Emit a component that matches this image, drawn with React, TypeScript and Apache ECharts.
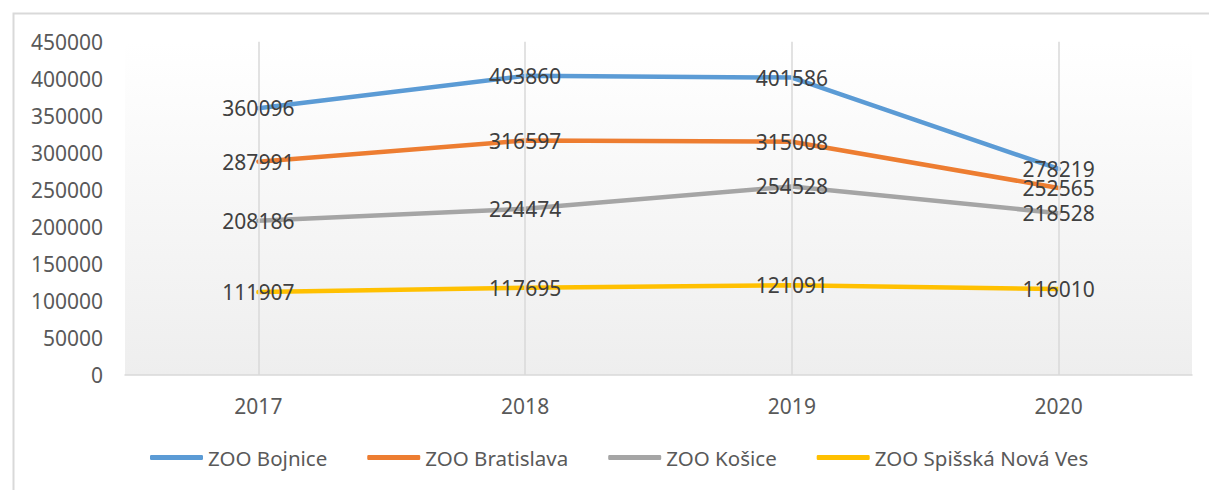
import React, { useEffect, useRef } from "react";
import * as echarts from "echarts";

const years = ["2017", "2018", "2019", "2020"];
const seriesNames = ["ZOO Bojnice", "ZOO Bratislava", "ZOO Košice", "ZOO Spišská Nová Ves"];
const bojnice = [360096, 403860, 401586, 278219];
const bratislava = [287991, 316597, 315008, 252565];
const kosice = [208186, 224474, 254528, 218528];
const spisska = [111907, 117695, 121091, 116010];
const colors = ["#5B9BD5", "#ED7D31", "#A5A5A5", "#FFC000"];
const yMax = 450000;
const yStep = 50000;

const FONT = "'Noto Sans', 'Open Sans', sans-serif";

export default function App() {
  const ref = useRef<HTMLDivElement>(null);
  useEffect(() => {
    if (!ref.current) return;
    const chart = echarts.init(ref.current, null, { renderer: "svg" });
    const values = [bojnice, bratislava, kosice, spisska];
    const lineSeries = values.map((d, i) => ({
      name: seriesNames[i],
      type: "line",
      data: d,
      showSymbol: true,
      symbol: "circle",
      symbolSize: 0,
      z: 3,
      lineStyle: { color: colors[i], width: 4.5, cap: "round", join: "round" },
      itemStyle: { color: colors[i] },
      label: {
        show: true,
        position: "inside",
        color: "#404040",
        fontSize: 21,
        fontFamily: FONT,
      },
    }));
    chart.setOption({
      animation: false,
      backgroundColor: "#ffffff",
      textStyle: { fontFamily: FONT },
      graphic: [
        {
          type: "rect",
          left: 11,
          top: 11,
          shape: { x: 0, y: 0, width: 1400, height: 700 },
          style: { fill: "none", stroke: "#d9d9d9", lineWidth: 2 },
          silent: true,
          z: 100,
        },
      ],
      grid: {
        left: 125,
        right: 17,
        top: 41.7,
        bottom: 115,
        show: true,
        borderWidth: 0,
        backgroundColor: new echarts.graphic.LinearGradient(0, 0, 0, 1, [
          { offset: 0, color: "#ffffff" },
          { offset: 1, color: "#eeeeee" },
        ]),
      },
      legend: {
        data: seriesNames,
        left: 150,
        top: 447,
        padding: 0,
        itemWidth: 53,
        itemHeight: 5,
        itemGap: 40,
        icon: "roundRect",
        textStyle: { color: "#595959", fontSize: 20.5, fontFamily: FONT },
      },
      xAxis: {
        type: "category",
        data: years,
        boundaryGap: true,
        axisLine: { show: true, lineStyle: { color: "#d9d9d9", width: 1.5 } },
        axisTick: { show: false },
        splitLine: { show: false },
        axisLabel: { color: "#595959", fontSize: 21, margin: 20, fontFamily: FONT },
      },
      yAxis: {
        type: "value",
        min: 0,
        max: yMax,
        interval: yStep,
        axisLine: { show: false },
        axisTick: { show: false },
        splitLine: { show: false },
        axisLabel: {
          color: "#595959",
          fontSize: 21,
          margin: 22,
          fontFamily: FONT,
          formatter: (v: number) => String(v),
        },
      },
      series: [
        {
          name: "grid-lines",
          type: "line",
          data: [],
          z: 1,
          silent: true,
          markLine: {
            silent: true,
            symbol: "none",
            label: { show: false },
            lineStyle: { color: "#d9d9d9", width: 1.5, type: "solid" },
            data: years.map((y) => ({ xAxis: y })),
          },
        },
        ...lineSeries,
      ],
    });
    return () => chart.dispose();
  }, []);
  return (
    <div
      ref={ref}
      style={{ position: "fixed", left: 0, top: 0, width: 1209, height: 490 }}
    />
  );
}
